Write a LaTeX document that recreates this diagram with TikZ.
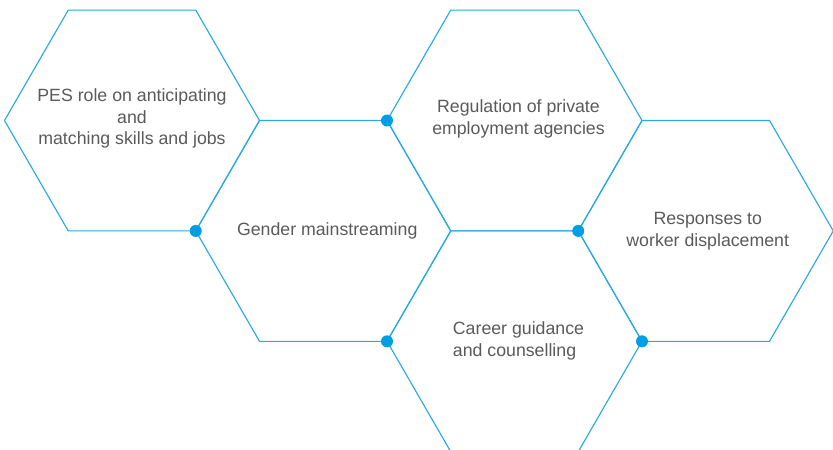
\documentclass[tikz,border=0pt]{standalone}
\usepackage{fontspec}
\setmainfont{Liberation Sans}
\usetikzlibrary{shapes.geometric}
\definecolor{hexline}{HTML}{29A9E0}
\definecolor{hexdot}{HTML}{009FE3}
\definecolor{hextext}{HTML}{5A5A5A}
\tikzset{
  hexa/.style={draw=hexline, line width=0.85pt, regular polygon, regular polygon sides=6,
    minimum size=191.25pt, inner sep=0pt, outer sep=0pt},
  hextxt/.style={align=center, text=hextext, inner sep=0pt,
    font=\fontsize{13.3}{16.3}\selectfont},
  hexdotstyle/.style={fill=hexdot}
}
\begin{document}
\begin{tikzpicture}[x=0.75pt, y=-0.75pt, line join=round, line cap=round]
  \useasboundingbox (0,0) rectangle (833,450);
  \clip (0,0) rectangle (833,450);
  \def\dx{191.25} \def\dy{110.4}
  % hexagons
  \node[hexa] (pes) at (132,120.5) {};
  \node[hexa] (gender) at (132+\dx,120.5+\dy) {};
  \node[hexa] (reg) at (132+2*\dx,120.5) {};
  \node[hexa] (resp) at (132+3*\dx,120.5+\dy) {};
  \node[hexa] (career) at (132+2*\dx,120.5+2*\dy) {};
  % texts
  \node[hextxt] (pestxt) at ([yshift=1.5pt]pes.center) {PES role on anticipating\\and\\matching skills and jobs};
  \node[hextxt] (gendertxt) at ([xshift=3pt]gender.center) {Gender mainstreaming};
  \node[hextxt] (regtxt) at ([xshift=3pt,yshift=1pt]reg.center) {Regulation of private\\employment agencies};
  \node[hextxt] (resptxt) at ([xshift=1.5pt]resp.center) {Responses to\\worker displacement};
  \node[hextxt, align=left] (careertxt) at ([xshift=3pt,yshift=0.5pt]career.center) {Career guidance\\and counselling};
  % dots on the joints
  \foreach \p in {reg.west, gender.west, resp.west, career.west, career.east}
  {\fill[hexdotstyle] (\p) circle (6);}
\end{tikzpicture}
\end{document}
